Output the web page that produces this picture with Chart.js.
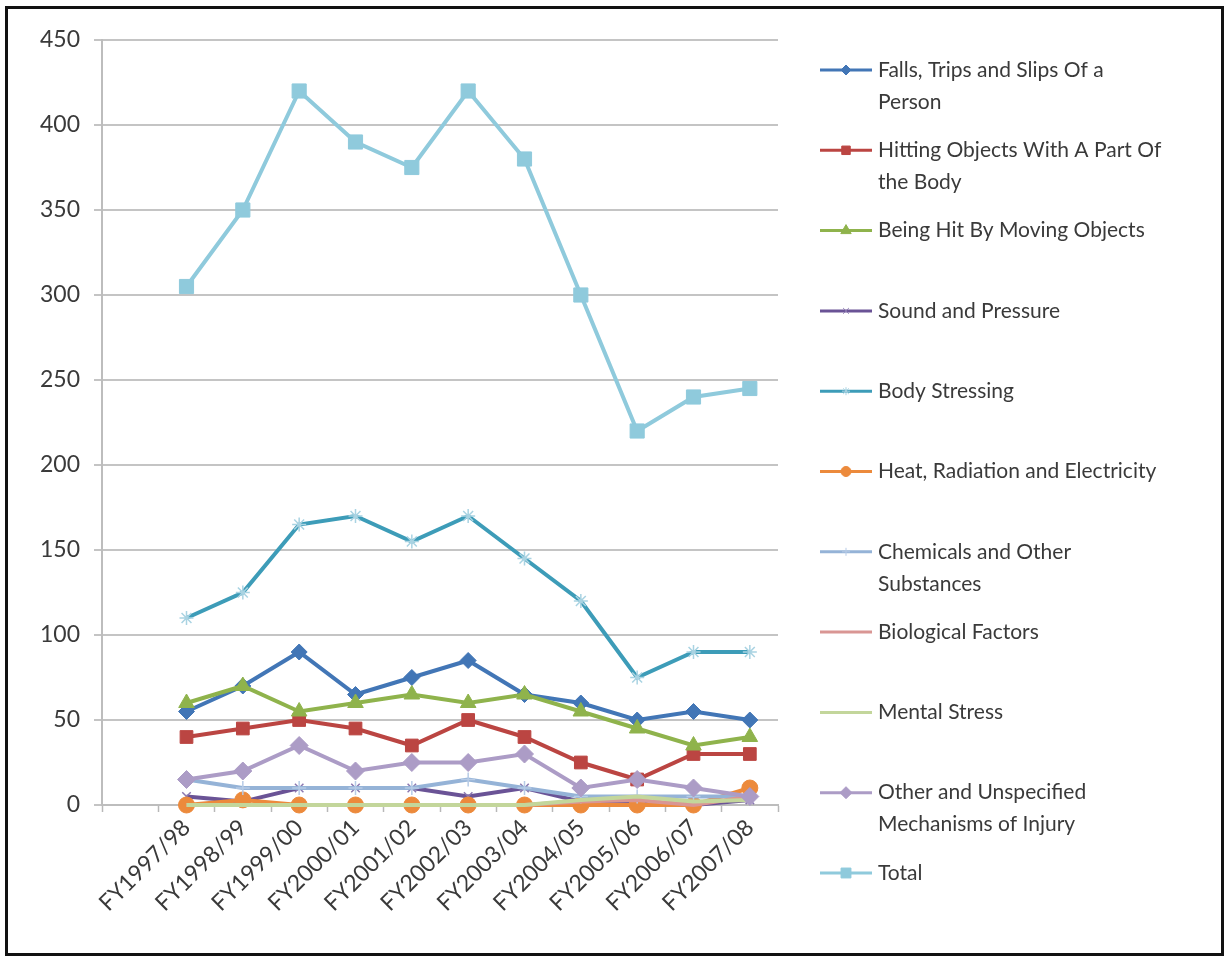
<!DOCTYPE html>
<html>
<head>
<meta charset="utf-8">
<script src="https://cdn.jsdelivr.net/npm/chart.js@4.4.1/dist/chart.umd.min.js"></script>
<style>
  html, body { margin: 0; background: #fff; }
  #frame { position: absolute; left: 5px; top: 6px; width: 1219px; height: 950px; border: 3px solid #111; box-sizing: border-box; }
  #wrap { position: absolute; left: 0; top: 0; width: 1213px; height: 944px; }
</style>
</head>
<body>
<div id="frame"><div id="wrap"><canvas id="c"></canvas></div></div>
<script>
// Injury mechanisms by financial year
const YEARS = ["FY1997/98", "FY1998/99", "FY1999/00", "FY2000/01", "FY2001/02", "FY2002/03",
  "FY2003/04", "FY2004/05", "FY2005/06", "FY2006/07", "FY2007/08"];

const falls      = [55, 70, 90, 65, 75, 85, 65, 60, 50, 55, 50];
const hitting    = [40, 45, 50, 45, 35, 50, 40, 25, 15, 30, 30];
const beingHit   = [60, 70, 55, 60, 65, 60, 65, 55, 45, 35, 40];
const sound      = [5, 2, 10, 10, 10, 5, 10, 2, 2, 0, 3];
const bodyStress = [110, 125, 165, 170, 155, 170, 145, 120, 75, 90, 90];
const heat       = [0, 3, 0, 0, 0, 0, 0, 0, 0, 0, 10];
const chemicals  = [15, 10, 10, 10, 10, 15, 10, 5, 5, 5, 5];
const biological = [0, 0, 0, 0, 0, 0, 0, 2, 3, 0, 5];
const mental     = [0, 0, 0, 0, 0, 0, 0, 3, 5, 2, 3];
const other      = [15, 20, 35, 20, 25, 25, 30, 10, 15, 10, 5];
const total      = [305, 350, 420, 390, 375, 420, 380, 300, 220, 240, 245];

const LEGEND_LINES = [
  ["Falls, Trips and Slips Of a", "Person"],
  ["Hitting Objects With A Part Of", "the Body"],
  ["Being Hit By Moving Objects"],
  ["Sound and Pressure"],
  ["Body Stressing"],
  ["Heat, Radiation and Electricity"],
  ["Chemicals and Other", "Substances"],
  ["Biological Factors"],
  ["Mental Stress"],
  ["Other and Unspecified", "Mechanisms of Injury"],
  ["Total"],
];

const series = [
  { data: falls,      color: "#4276b6", style: "rectRot",  r: 8,  fill: "#4276b6" },
  { data: hitting,    color: "#bb4542", style: "rect",     r: 9,  fill: "#bb4542" },
  { data: beingHit,   color: "#8fb34c", style: "triangle", r: 9,  fill: "#8fb34c" },
  { data: sound,      color: "#6a5396", style: "crossRot", r: 6,  fill: null, stroke: "#8b78b0" },
  { data: bodyStress, color: "#3d9cb8", style: "star",     r: 7,  fill: null, stroke: "#a9d3e2" },
  { data: heat,       color: "#ec8a3c", style: "circle",   r: 8,  fill: "#ec8a3c" },
  { data: chemicals,  color: "#95b3d7", style: "cross",    r: 7,  fill: null, stroke: "#b7cbe6" },
  { data: biological, color: "#d99694", style: false,      r: 0 },
  { data: mental,     color: "#c3d69b", style: false,      r: 0 },
  { data: other,      color: "#ac9cc6", style: "rectRot",  r: 9,  fill: "#ac9cc6" },
  { data: total,      color: "#8fcadc", style: "rect",     r: 10, fill: "#8fcadc" },
];

const FONT = "Lato, 'Open Sans', sans-serif";

const datasets = series.map((s, i) => ({
  label: LEGEND_LINES[i].join(" "),
  data: s.data.map((v, k) => ({ x: k, y: v })),
  borderColor: s.color,
  borderWidth: 4,
  pointStyle: s.style,
  pointRadius: s.r,
  pointBackgroundColor: s.fill || "transparent",
  pointBorderColor: s.stroke || s.fill || s.color,
  pointBorderWidth: s.fill ? 1 : 1.5,
  tension: 0,
  clip: false,
  order: series.length - i,
}));

// legend drawn at the right with wrapped labels
const sideLegend = {
  id: "sideLegend",
  afterDraw(chart) {
    const ctx = chart.ctx;
    ctx.save();
    ctx.font = "21px " + FONT;
    ctx.textBaseline = "middle";
    series.forEach((s, i) => {
      const y = 61 + i * 80.3;
      ctx.strokeStyle = s.color;
      ctx.lineWidth = 3;
      ctx.beginPath(); ctx.moveTo(812, y); ctx.lineTo(864, y); ctx.stroke();
      if (s.style) {
        ctx.fillStyle = s.fill || "transparent";
        ctx.strokeStyle = s.stroke || s.fill;
        ctx.lineWidth = 1;
        Chart.helpers.drawPoint(ctx, { pointStyle: s.style, radius: Math.max(4, s.r - 3), rotation: 0, borderWidth: 1 }, 838, y);
      }
      ctx.fillStyle = "#3a3a3a";
      LEGEND_LINES[i].forEach((t, j) => ctx.fillText(t, 870, y + j * 32));
    });
    ctx.restore();
  },
};

new Chart(document.getElementById("c"), {
  type: "line",
  data: { datasets },
  options: {
    responsive: true,
    maintainAspectRatio: false,
    animation: false,
    layout: { padding: { top: 31, right: 443, left: 0, bottom: 0 } },
    plugins: { legend: { display: false }, tooltip: { enabled: false } },
    scales: {
      x: {
        type: "linear",
        min: -1.5,
        max: 10.5,
        afterBuildTicks: (s) => {
          const t = [];
          for (let v = -1.5; v <= 10.5; v += 0.5) t.push({ value: v });
          s.ticks = t;
        },
        afterFit: (s) => { s.height = 148; },
        ticks: {
          autoSkip: false,
          maxRotation: 45,
          minRotation: 45,
          padding: 2,
          color: "#3a3a3a",
          font: { family: FONT, size: 23 },
          callback: (v) => (Number.isInteger(v) && v >= 0 && v < YEARS.length ? YEARS[v] : ""),
        },
        grid: {
          drawOnChartArea: false,
          tickLength: 7,
          tickWidth: 1.5,
          tickColor: (c) => (c.tick && Number.isInteger(c.tick.value + 0.5) ? "#b8b8b8" : "transparent"),
        },
        border: { color: "#bdbdbd", width: 2 },
      },
      y: {
        min: 0,
        max: 450,
        afterFit: (s) => { s.width = 94; },
        ticks: { stepSize: 50, padding: 14, color: "#3a3a3a", font: { family: FONT, size: 23 } },
        grid: { color: "#c4c4c4", lineWidth: 2, tickLength: 8 },
        border: { color: "#bdbdbd", width: 2 },
      },
    },
  },
  plugins: [sideLegend],
});
</script>
</body>
</html>
